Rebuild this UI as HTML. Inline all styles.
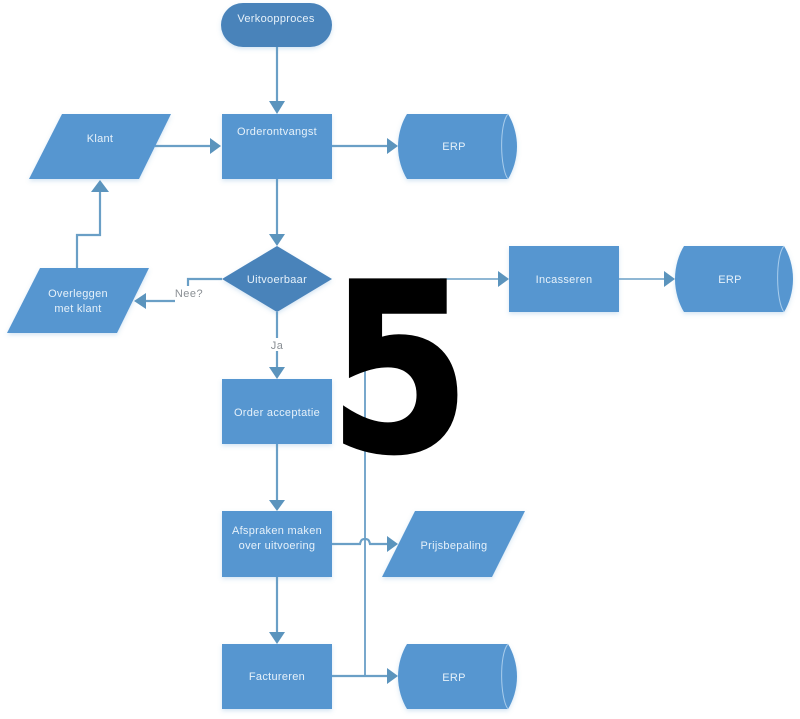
<!DOCTYPE html>
<html>
<head>
<meta charset="utf-8">
<style>
html,body{margin:0;padding:0;background:#fff;width:800px;height:719px;overflow:hidden}
svg{display:block}
.s{fill:#5696d0}
.d{fill:#4a83ba}
.l{stroke:#6a9fc6;stroke-width:2.2;fill:none}
.a{fill:#5b94bd}
.t{font-family:"Liberation Sans",sans-serif;font-size:11px;fill:#e6f1fa;text-anchor:middle;letter-spacing:.3px}
.g{font-family:"Liberation Sans",sans-serif;font-size:11px;fill:#8a8f94;text-anchor:middle;letter-spacing:.5px}
.c{fill:none;stroke:#a9cdec;stroke-width:1}
</style>
</head>
<body>
<svg width="800" height="719" viewBox="0 0 800 719" xmlns="http://www.w3.org/2000/svg">
<defs>
<filter id="b" x="-5%" y="-5%" width="110%" height="115%"><feDropShadow dx="0" dy="2" stdDeviation="2" flood-color="#5696d0" flood-opacity=".25"/></filter>
</defs>

<!-- connectors -->
<path class="l" d="M277 47V104"/>
<path class="a" d="M269 101H285L277 114Z"/>
<path class="l" d="M155 146H211"/>
<path class="a" d="M210 138V154L221 146Z"/>
<path class="l" d="M332 146H388"/>
<path class="a" d="M387 138V154L398 146Z"/>
<path class="l" d="M277 179V236"/>
<path class="a" d="M269 234H285L277 246Z"/>
<path class="l" d="M222 279H188V286"/>
<path class="l" d="M175 301H144"/>
<path class="a" d="M146 293V309L134 301Z"/>
<path class="l" d="M77 268V235H100V190"/>
<path class="a" d="M91 192H109L100 180Z"/>
<path class="l" d="M277 312V338"/>
<path class="l" d="M277 351V369"/>
<path class="a" d="M269 367H285L277 379Z"/>
<path class="l" d="M277 444V501"/>
<path class="a" d="M269 500H285L277 511Z"/>
<path class="l" d="M277 577V634"/>
<path class="a" d="M269 632H285L277 644Z"/>
<path class="l" d="M440 279H499" style="stroke-width:1.6"/>
<path class="a" d="M498 271V287L509 279Z"/>
<path class="l" d="M619 279H665" style="stroke-width:1.6"/>
<path class="a" d="M664 271V287L675 279Z"/>
<path class="l" d="M365 340V676" style="stroke-width:1.8"/>
<path class="l" d="M332 544H360C361 539 363 539 365 539C367 539 369 539 370 544H388"/>
<path class="a" d="M387 536V552L398 544Z"/>
<path class="l" d="M332 676H388"/>
<path class="a" d="M387 668V684L398 676Z"/>

<!-- nodes -->
<g filter="url(#b)">
<rect class="d" x="221" y="3" width="111" height="44" rx="22"/>
<path class="s" d="M62 114H171L139 179H29Z"/>
<rect class="s" x="222" y="114" width="110" height="65"/>
<path class="s" d="M407 114H508C513 122 517 134 517 146.500C517 159 513 171 508 179H407C402 171 398 159 398 146.500C398 134 402 122 407 114Z"/>
<path class="d" d="M277 246L332 279L277 312L222 279Z"/>
<path class="s" d="M40 268H149L117 333H7Z"/>
<rect class="s" x="222" y="379" width="110" height="65"/>
<rect class="s" x="222" y="511" width="110" height="66"/>
<rect class="s" x="222" y="644" width="110" height="65"/>
<path class="s" d="M415 511H525L492 577H382Z"/>
<path class="s" d="M407 644H508C513 652 517 664 517 676.500C517 689 513 701 508 709H407C402 701 398 689 398 676.500C398 664 402 652 407 644Z"/>
<rect class="s" x="509" y="246" width="110" height="66"/>
<path class="s" d="M684 246H784C789 254 793 266 793 279C793 292 789 304 784 312H684C679 304 675 292 675 279C675 266 679 254 684 246Z"/>
</g>
<path class="c" d="M508 114C499 124 500 169 508 179"/>
<path class="c" d="M508 644C499 654 500 699 508 709"/>
<path class="c" d="M784 246C775 256 776 302 784 312"/>

<!-- labels -->
<text class="t" x="276" y="22">Verkoopproces</text>
<text class="t" x="277" y="135">Orderontvangst</text>
<text class="t" x="100" y="142">Klant</text>
<text class="t" x="454" y="150">ERP</text>
<text class="t" x="277" y="283">Uitvoerbaar</text>
<text class="t" x="78" y="297">Overleggen</text>
<text class="t" x="78" y="312">met klant</text>
<text class="g" x="189" y="297">Nee?</text>
<text class="g" x="277" y="349">Ja</text>
<text class="t" x="277" y="416">Order acceptatie</text>
<text class="t" x="277" y="534">Afspraken maken</text>
<text class="t" x="277" y="549">over uitvoering</text>
<text class="t" x="454" y="549">Prijsbepaling</text>
<text class="t" x="277" y="680">Factureren</text>
<text class="t" x="454" y="681">ERP</text>
<text class="t" x="564" y="283">Incasseren</text>
<text class="t" x="730" y="283">ERP</text>

<text transform="translate(399.500 450.500) scale(.87 1)" x="0" y="0" font-family="'DejaVu Sans',sans-serif" font-weight="700" font-size="234" text-anchor="middle" fill="#000" stroke="#000" stroke-width="3">5</text>
</svg>
</body>
</html>
